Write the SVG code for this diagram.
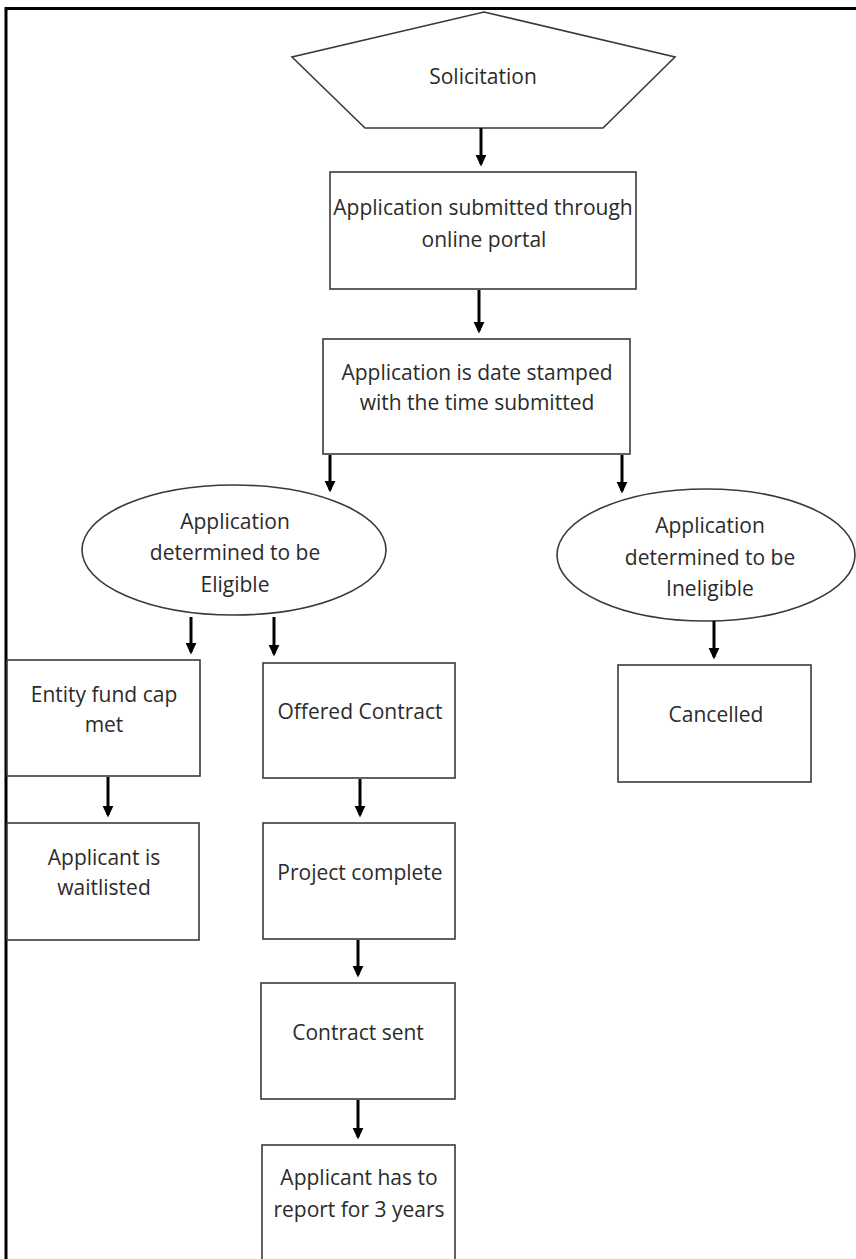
<svg xmlns="http://www.w3.org/2000/svg" width="856" height="1259" viewBox="0 0 856 1259">
<style>
.n{fill:#fff;stroke:#3a3a3a;stroke-width:1.6}
.t{font-family:"Open Sans","Liberation Sans",sans-serif;font-size:21px;fill:#2b2b2b;text-anchor:middle}
.c{stroke:#000;stroke-width:3;fill:none}
.frame{stroke:#000;stroke-width:3;fill:none}
</style>
<defs>
<marker id="ah" markerWidth="4.4" markerHeight="4.4" refX="3" refY="2.2" orient="auto" markerUnits="strokeWidth" viewBox="0 0 4.4 4.4">
<path d="M0,0.4 L3.8,2.2 L0,4 z" fill="#000"/>
</marker>
</defs>
<rect width="856" height="1259" fill="#fff"/>
<path class="frame" d="M6,1259 V8.5 H856"/>

<g id="solicitation">
<polygon class="n" points="484,12 675,57 603,128 365,128 292,57"/>
<text class="t" x="483" y="84">Solicitation</text>
</g>
<g id="submitted">
<rect class="n" x="330" y="172" width="306" height="117"/>
<text class="t" x="483" y="215">Application submitted through</text>
<text class="t" x="484" y="247">online portal</text>
</g>
<g id="stamped">
<rect class="n" x="323" y="339" width="307" height="115"/>
<text class="t" x="477" y="380">Application is date stamped</text>
<text class="t" x="477" y="410">with the time submitted</text>
</g>
<g id="eligible">
<ellipse class="n" cx="234" cy="550" rx="152" ry="65"/>
<text class="t" x="235" y="529">Application</text>
<text class="t" x="235" y="560">determined to be</text>
<text class="t" x="235" y="592">Eligible</text>
</g>
<g id="ineligible">
<ellipse class="n" cx="706" cy="555" rx="149" ry="66"/>
<text class="t" x="710" y="533">Application</text>
<text class="t" x="710" y="565">determined to be</text>
<text class="t" x="710" y="596">Ineligible</text>
</g>
<g id="fundcap">
<rect class="n" x="7" y="660" width="193" height="116"/>
<text class="t" x="104" y="702">Entity fund cap</text>
<text class="t" x="104" y="732">met</text>
</g>
<g id="waitlisted">
<rect class="n" x="7" y="823" width="192" height="117"/>
<text class="t" x="104" y="865">Applicant is</text>
<text class="t" x="104" y="895">waitlisted</text>
</g>
<g id="offered">
<rect class="n" x="263" y="663" width="192" height="115"/>
<text class="t" x="360" y="719">Offered Contract</text>
</g>
<g id="complete">
<rect class="n" x="263" y="823" width="192" height="116"/>
<text class="t" x="360" y="880">Project complete</text>
</g>
<g id="sent">
<rect class="n" x="261" y="983" width="194" height="116"/>
<text class="t" x="358" y="1040">Contract sent</text>
</g>
<g id="report">
<rect class="n" x="262" y="1145" width="193" height="130"/>
<text class="t" x="359" y="1185">Applicant has to</text>
<text class="t" x="359" y="1217">report for 3 years</text>
</g>
<g id="cancelled">
<rect class="n" x="618" y="665" width="193" height="117"/>
<text class="t" x="716" y="722">Cancelled</text>
</g>

<g id="connectors">
<line class="c" x1="481" y1="128" x2="481" y2="164" marker-end="url(#ah)"/>
<line class="c" x1="479" y1="290" x2="479" y2="331" marker-end="url(#ah)"/>
<line class="c" x1="330" y1="455" x2="330" y2="490" marker-end="url(#ah)"/>
<line class="c" x1="622" y1="455" x2="622" y2="491" marker-end="url(#ah)"/>
<line class="c" x1="191" y1="617" x2="191" y2="652" marker-end="url(#ah)"/>
<line class="c" x1="274" y1="617" x2="274" y2="654" marker-end="url(#ah)"/>
<line class="c" x1="714" y1="621" x2="714" y2="657" marker-end="url(#ah)"/>
<line class="c" x1="108" y1="777" x2="108" y2="815" marker-end="url(#ah)"/>
<line class="c" x1="360" y1="779" x2="360" y2="815" marker-end="url(#ah)"/>
<line class="c" x1="358" y1="940" x2="358" y2="975" marker-end="url(#ah)"/>
<line class="c" x1="358" y1="1100" x2="358" y2="1137" marker-end="url(#ah)"/>
</g>
</svg>
